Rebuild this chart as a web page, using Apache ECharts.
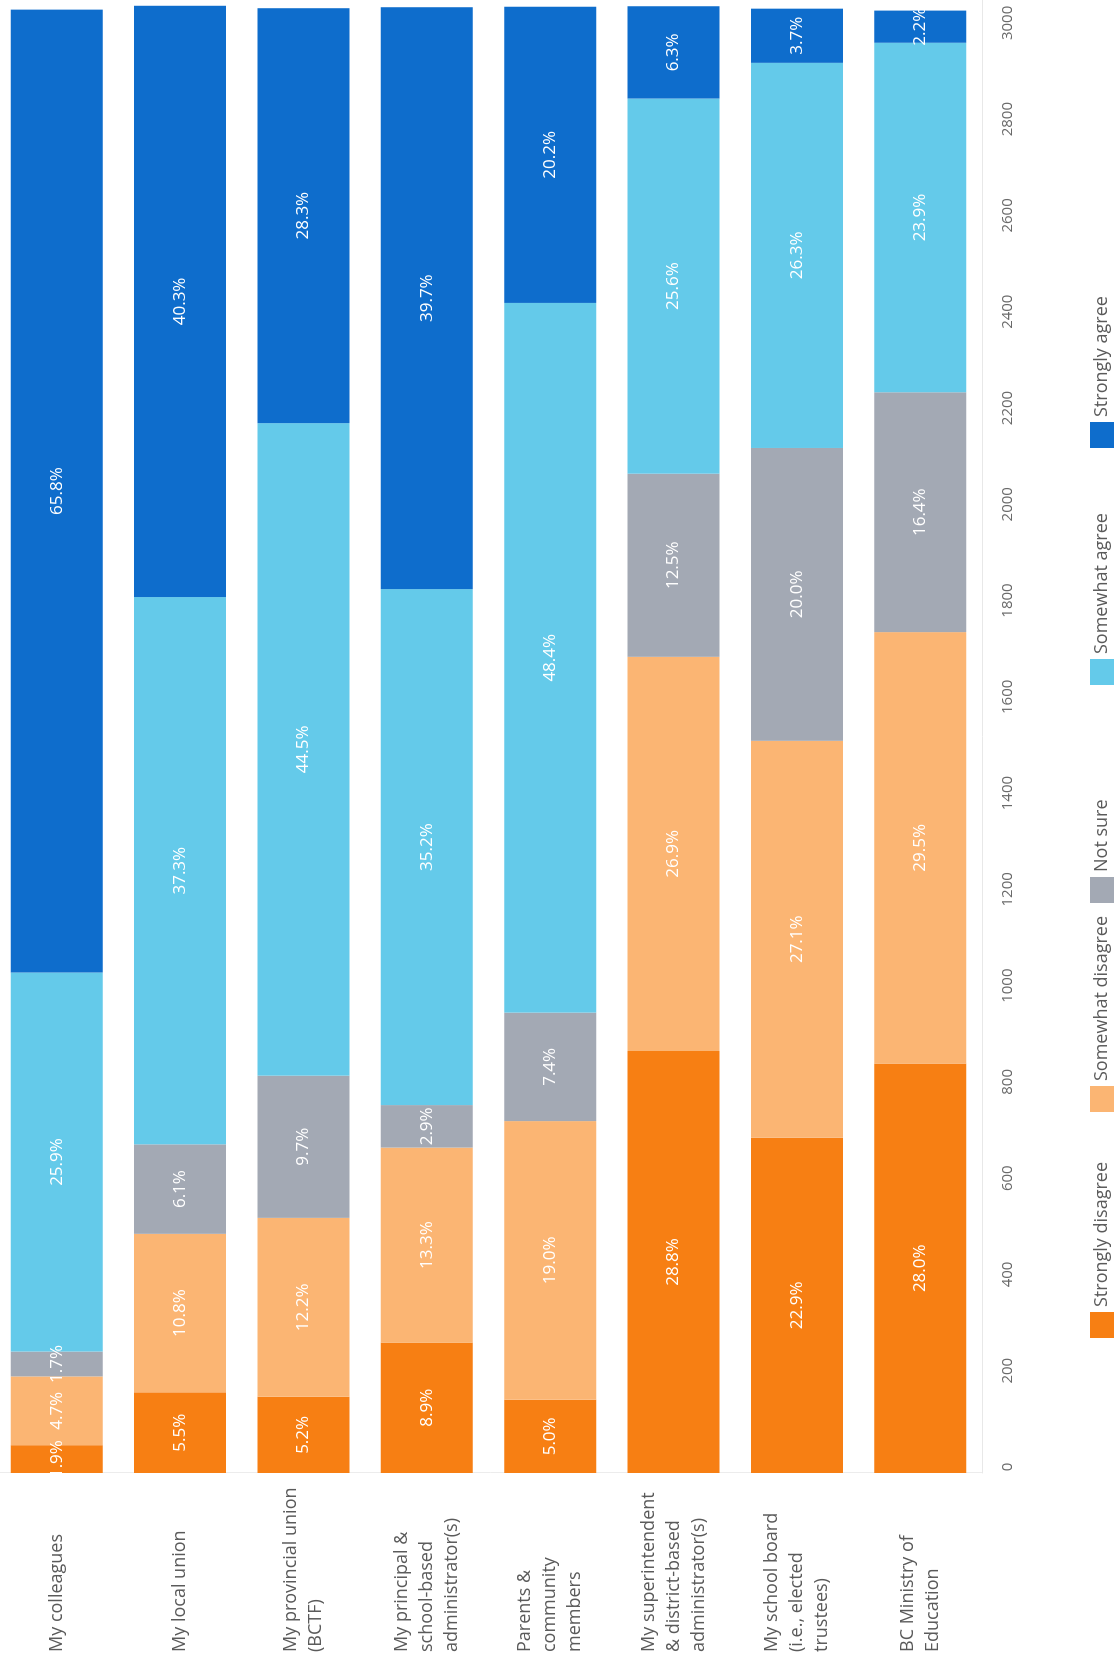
<!DOCTYPE html>
<html>
<head>
<meta charset="utf-8">
<title>Who teachers trust</title>
<script src="https://cdn.jsdelivr.net/npm/echarts@6/dist/echarts.min.js"></script>
<style>
  html, body { margin: 0; padding: 0; background: #ffffff; overflow: hidden; }
  body { width: 1116px; height: 1658px; position: relative; }
  /* The chart is laid out as a horizontal bar chart and turned a quarter turn
     counter-clockwise so the bars stand upright and text reads bottom to top. */
  #chart {
    position: absolute; left: 0; top: 0;
    width: 1658px; height: 1116px;
    transform-origin: 0 0;
    transform: translateY(1658px) rotate(-90deg);
  }
</style>
</head>
<body>
<div id="chart"></div>
<script>
// Groups asked about, in display order
const categories = [
  'My colleagues',
  'My local union',
  'My provincial union\n(BCTF)',
  'My principal &\nschool-based\nadministrator(s)',
  'Parents &\ncommunity\nmembers',
  'My superintendent\n& district-based\nadministrator(s)',
  'My school board\n(i.e., elected\ntrustees)',
  'BC Ministry of\nEducation'
];

// Respondents per group (bar length)
const totals = [3040, 3048, 3046, 3045, 3046, 3044, 3042, 3038];

// Share of respondents per answer, in percent
const stronglyDisagree = [1.9, 5.5, 5.2, 8.9, 5.0, 28.8, 22.9, 28.0];
const somewhatDisagree = [4.7, 10.8, 12.2, 13.3, 19.0, 26.9, 27.1, 29.5];
const notSure          = [1.7, 6.1, 9.7, 2.9, 7.4, 12.5, 20.0, 16.4];
const somewhatAgree    = [25.9, 37.3, 44.5, 35.2, 48.4, 25.6, 26.3, 23.9];
const stronglyAgree    = [65.8, 40.3, 28.3, 39.7, 20.2, 6.3, 3.7, 2.2];

// Count axis ticks
const axisMax = 3060;
const axisStep = 200;

const answers = [
  { name: 'Strongly disagree', pct: stronglyDisagree, color: '#f77f13' },
  { name: 'Somewhat disagree', pct: somewhatDisagree, color: '#fbb573' },
  { name: 'Not sure',          pct: notSure,          color: '#a3a9b4' },
  { name: 'Somewhat agree',    pct: somewhatAgree,    color: '#64caea' },
  { name: 'Strongly agree',    pct: stronglyAgree,    color: '#0e6dcc' }
];

const legendLeft = [320, 546, 755, 973, 1210];

const FONT = '"Open Sans", "Noto Sans", sans-serif';

const chart = echarts.init(document.getElementById('chart'), null, { renderer: 'canvas' });

chart.setOption({
  backgroundColor: '#ffffff',
  animation: false,
  textStyle: { fontFamily: FONT },
  grid: {
    left: 185, top: -5, width: 1473, height: 987,
    containLabel: false,
    outerBoundsMode: 'none'
  },
  legend: answers.map((a, i) => ({
    data: [a.name],
    left: legendLeft[i],
    top: 1090,
    padding: 0,
    itemWidth: 26,
    itemHeight: 24,
    icon: 'rect',
    selectedMode: false,
    textStyle: { fontFamily: FONT, fontSize: 18, color: '#5a5a5a' }
  })),
  xAxis: {
    type: 'value',
    min: 0,
    max: axisMax,
    interval: axisStep,
    axisLine: { show: true, lineStyle: { color: '#e8e8e8', width: 1 } },
    axisTick: { show: false },
    splitLine: { show: false },
    axisLabel: {
      margin: 18,
      padding: [0, 0, 0, 12],
      fontFamily: FONT,
      fontSize: 15,
      color: '#6a6a6a',
      formatter: v => (v % axisStep === 0 ? String(v) : '')
    }
  },
  yAxis: {
    type: 'category',
    inverse: true,
    data: categories,
    axisLine: { show: true, lineStyle: { color: '#ececec', width: 1 } },
    axisTick: { show: false },
    axisLabel: {
      align: 'left',
      margin: 179,
      fontFamily: FONT,
      fontSize: 18,
      lineHeight: 25,
      color: '#5a5a5a'
    }
  },
  series: answers.map(a => ({
    name: a.name,
    type: 'bar',
    stack: 'all',
    barWidth: 92,
    itemStyle: { color: a.color },
    label: {
      show: true,
      position: 'inside',
      fontFamily: FONT,
      fontSize: 17,
      color: '#ffffff',
      formatter: p => a.pct[p.dataIndex].toFixed(1) + '%'
    },
    data: a.pct.map((v, i) => totals[i] * v / 100)
  }))
});
</script>
</body>
</html>
